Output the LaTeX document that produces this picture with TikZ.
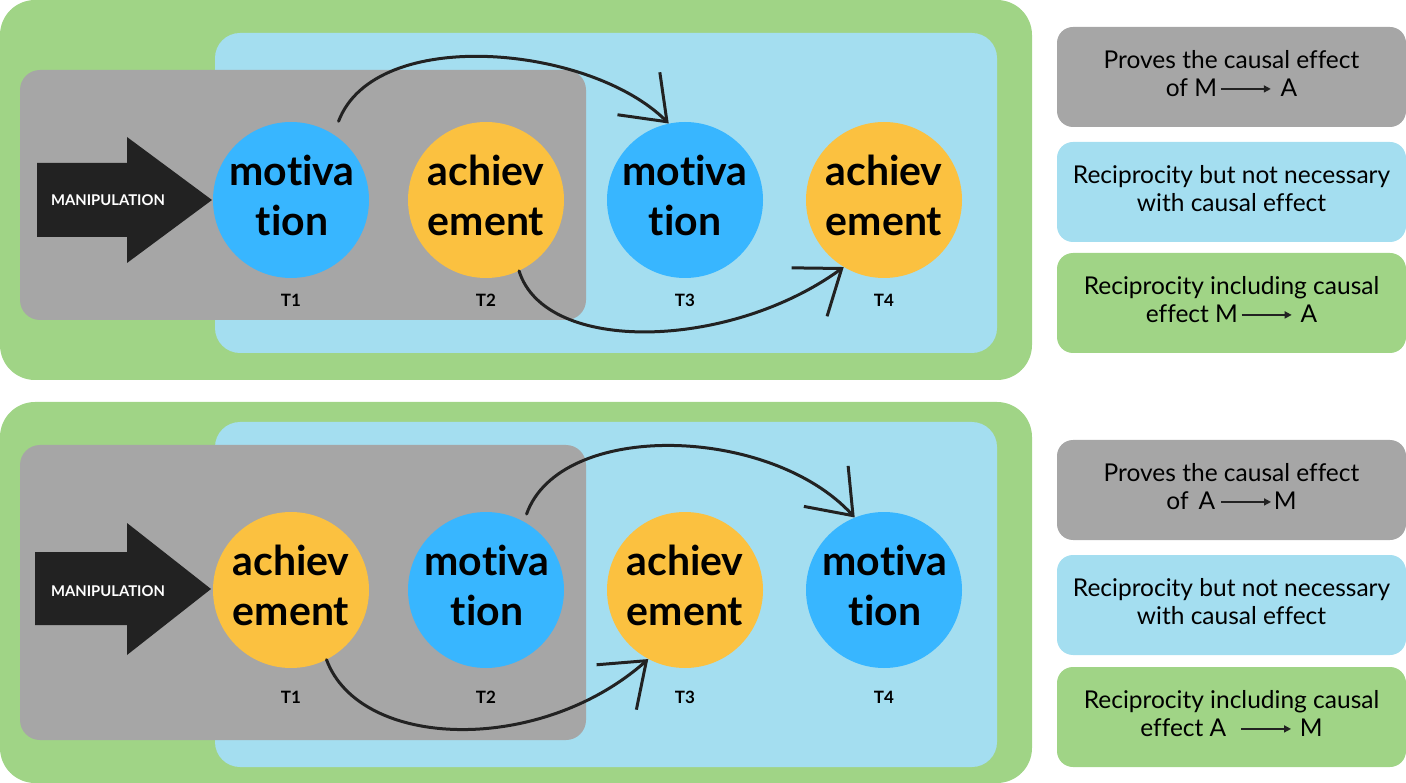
\documentclass[tikz,border=0pt]{standalone}
\usepackage{fontspec}
\setmainfont{Lato}[Ligatures=NoCommon]
\usetikzlibrary{arrows.meta}
\definecolor{pgreen}{HTML}{A0D486}
\definecolor{pblue}{HTML}{A4DEF0}
\definecolor{pgray}{HTML}{A6A6A6}
\definecolor{cblue}{HTML}{38B6FF}
\definecolor{cyellow}{HTML}{FBC140}
\definecolor{ink}{HTML}{222222}
\newcommand\legarrow{\tikz[baseline=-8pt]\draw[ink,line width=1.6pt,-{Triangle[length=7pt,width=7pt]}] (0pt,0pt) -- (50pt,0pt);}
\begin{document}
\begin{tikzpicture}[x=1pt,y=-1pt,
  circ/.style={circle,minimum size=156pt,inner sep=0pt},
  mot/.style={circ,fill=cblue},
  ach/.style={circ,fill=cyellow},
  ctext/.style={align=center,inner sep=0pt,font=\bfseries\fontsize{41}{50}\selectfont},
  tlab/.style={font=\bfseries\fontsize{17}{19}\selectfont},
  manip/.style={font=\bfseries\fontsize{14.8}{16}\selectfont,text=white},
  legbox/.style={rounded corners=16pt,minimum width=349pt,minimum height=100pt,inner sep=0pt},
  legtext/.style={align=center,inner sep=0pt,font=\fontsize{24.5}{28}\selectfont},
  hand/.style={ink,line width=3pt,line cap=round,-{Straight Barb[length=40pt,width=60pt,line width=3pt]}},
]
\useasboundingbox (0,0) rectangle (1406,783);
% ---------- top panel ----------
\fill[pgreen,rounded corners=35pt] (0,0) rectangle (1032,380);
\fill[pblue,rounded corners=25pt] (215,33) rectangle (997,353);
\fill[pgray,rounded corners=20pt] (20,70) rectangle (586,320);
\fill[ink] (37,163) -- (127,163) -- (127,137) -- (212,200) -- (127,263) -- (127,237) -- (37,237) -- cycle;
\node[manip] (m1) at (108,200) {MANIPULATION};
\node[mot] (a1) at (291,200) {};
\node[ach] (a2) at (486,200) {};
\node[mot] (a3) at (685,200) {};
\node[ach] (a4) at (884,200) {};
\node[ctext] (a1t) at (292,195) {motiva\\tion};
\node[ctext] (a2t) at (486,195) {achiev\\ement};
\node[ctext] (a3t) at (685,195) {motiva\\tion};
\node[ctext] (a4t) at (884,195) {achiev\\ement};
\node[tlab] (ta1) at (291,300) {T1};
\node[tlab] (ta2) at (486,300) {T2};
\node[tlab] (ta3) at (685,300) {T3};
\node[tlab] (ta4) at (884,300) {T4};
\draw[hand,shorten <=14pt] (a1.57) .. controls (375,25) and (590,45) .. (a3.102);
\draw[hand] (a2.-65) .. controls (545,355) and (730,350) .. (a4.-121);
% ---------- bottom panel ----------
\fill[pgreen,rounded corners=35pt] (0,402) rectangle (1032,783);
\fill[pblue,rounded corners=25pt] (215,422) rectangle (997,767);
\fill[pgray,rounded corners=20pt] (20,445) rectangle (586,740);
\fill[ink] (35,552) -- (127,552) -- (127,523) -- (211,589) -- (127,655) -- (127,625) -- (35,625) -- cycle;
\node[manip] (m2) at (108,591) {MANIPULATION};
\node[ach] (b1) at (291,590) {};
\node[mot] (b2) at (486,590) {};
\node[ach] (b3) at (685,590) {};
\node[mot] (b4) at (884,590) {};
\node[ctext] (b1t) at (291,585) {achiev\\ement};
\node[ctext] (b2t) at (487,585) {motiva\\tion};
\node[ctext] (b3t) at (685,585) {achiev\\ement};
\node[ctext] (b4t) at (885,585) {motiva\\tion};
\node[tlab] (tb1) at (291,697) {T1};
\node[tlab] (tb2) at (486,697) {T2};
\node[tlab] (tb3) at (685,697) {T3};
\node[tlab] (tb4) at (884,697) {T4};
\draw[hand] (b1.-63) .. controls (360,750) and (540,755) .. (b3.-118);
\draw[hand,shorten <=8pt] (b2.61) .. controls (560,420) and (770,425) .. (b4.112);
% ---------- legends ----------
\node[legbox,fill=pgray] (l1) at (1231.5,77) {};
\node[legbox,fill=pblue] (l2) at (1231.5,192) {};
\node[legbox,fill=pgreen] (l3) at (1231.5,303) {};
\node[legbox,fill=pgray] (l4) at (1231.5,490) {};
\node[legbox,fill=pblue] (l5) at (1231.5,605) {};
\node[legbox,fill=pgreen] (l6) at (1231.5,717) {};
\node[legtext] (l1t) at (1231.5,74) {Proves the causal effect\\of M\hspace{3pt}\legarrow\hspace{9pt}A};
\node[legtext] (l2t) at (1231.5,189) {Reciprocity but not necessary\\with causal effect};
\node[legtext] (l3t) at (1231.5,300) {Reciprocity including causal\\effect M\hspace{3pt}\legarrow\hspace{8pt}A};
\node[legtext] (l4t) at (1231.5,487) {Proves the causal effect\\of\hspace{10pt}A\hspace{5pt}\legarrow\hspace{2pt}M};
\node[legtext] (l5t) at (1231.5,602) {Reciprocity but not necessary\\with causal effect};
\node[legtext] (l6t) at (1231.5,714) {Reciprocity including causal\\effect A\hspace{14pt}\legarrow\hspace{8pt}M};
\end{tikzpicture}
\end{document}
